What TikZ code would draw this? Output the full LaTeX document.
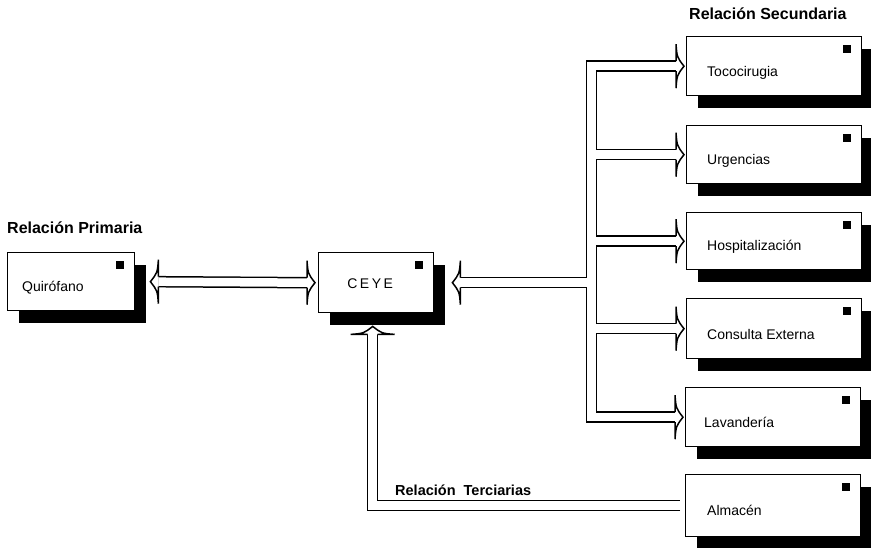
\documentclass[tikz,border=0pt]{standalone}
\usepackage{fontspec}
\setmainfont{Liberation Sans}
\usetikzlibrary{calc,shadows}
\tikzset{
  boxst/.style={draw, line width=1.4pt, fill=white, anchor=north west, inner sep=0pt,
    drop shadow={opacity=1,fill=black,shadow xshift=11pt,shadow yshift=-12pt}},
  lbl/.style={font=\fontsize{14}{16}\selectfont, inner sep=0pt, anchor=base west},
  ttl/.style={font=\bfseries\fontsize{16}{18}\selectfont, inner sep=0pt, anchor=base west},
  ttlsmall/.style={font=\bfseries\fontsize{14.5}{17}\selectfont, inner sep=0pt, anchor=base west},
  edge/.style={line width=1.5pt, line cap=butt, line join=miter},
  chanblack/.style={draw=black, line width=11.5pt, line join=miter, line cap=butt},
  chanwhite/.style={draw=white, line width=8.5pt, line join=miter, line cap=butt},
  arrhead/.pic={
    \fill[white] (-8,-22) .. controls (-7,-9) .. (0,0) .. controls (-7,9) .. (-8,22) -- cycle;
    \draw[edge] (-8,-5) -- (-8,-22) .. controls (-7,-9) .. (0,0) .. controls (-7,9) .. (-8,22) -- (-8,5);
  }
}
\newcommand\boxsq[1]{\fill ($(#1.north east)+(-19,9)$) rectangle ++(8,8);}
\begin{document}
\begin{tikzpicture}[x=1pt,y=-1pt]
\useasboundingbox (0,0) rectangle (871,548);
\fill[white] (0,0) rectangle (871,548);

% boxes
\node[boxst, minimum width=127pt, minimum height=58pt] (quir) at (7,252) {};
\node[boxst, minimum width=115pt, minimum height=60pt] (ceye) at (318,252) {};
\node[boxst, minimum width=175pt, minimum height=59pt] (toco) at (686,36) {};
\node[boxst, minimum width=175pt, minimum height=58pt] (urg) at (686,125) {};
\node[boxst, minimum width=175pt, minimum height=57pt] (hosp) at (686,212) {};
\node[boxst, minimum width=175pt, minimum height=60pt] (cons) at (686,298) {};
\node[boxst, minimum width=175pt, minimum height=59pt] (lav) at (685,387) {};
\node[boxst, minimum width=175pt, minimum height=62pt] (alm) at (685,474) {};
\foreach \b in {quir,ceye,toco,urg,hosp,cons,lav,alm}{\boxsq{\b}}

% box texts
\node[lbl] (quirt) at ($(quir.west)+(15,10)$) {Quirófano};
\node[lbl, anchor=base] (ceyet) at ($(ceye.center)+(-6,5.5)$) {C\kern2.5pt E\kern2.5pt Y\kern2.5pt E};
\node[lbl] (tocot) at ($(toco.west)+(21,10.5)$) {Tococirugia};
\node[lbl] (urgt) at ($(urg.west)+(21,10)$) {Urgencias};
\node[lbl] (hospt) at ($(hosp.west)+(21,9)$) {Hospitalización};
\node[lbl] (const) at ($(cons.west)+(21,10.5)$) {Consulta Externa};
\node[lbl] (lavt) at ($(lav.west)+(19,10)$) {Lavandería};
\node[lbl] (almt) at ($(alm.west)+(22,10)$) {Almacén};

% titles
\node[ttl] (prim) at (7,234) {Relación Primaria};
\node[ttl] (sec) at (689,20) {Relación Secundaria};
\node[ttlsmall] (ter) at (395,495) {Relación\ \ Terciarias};

% channel geometry
\coordinate (busx) at (591.5,0);
\coordinate (ceyeb) at ($(ceye.south)+(-3.5,21)$);
\newcommand\allchannels[1]{%
  \path[#1] ($(toco.west)+(-10,0)$) -- (busx |- toco.west) -- (busx |- lav.west) -- ($(lav.west)+(-10,0)$);
  \path[#1] (busx |- urg.west) -- ($(urg.west)+(-10,0)$);
  \path[#1] (busx |- hosp.west) -- ($(hosp.west)+(-10,0)$);
  \path[#1] (busx |- cons.west) -- ($(cons.west)+(-10,0)$);
  \path[#1] (busx |- ceye.east) -- ($(ceye.east)+(26,0)$);
  \path[#1] ($(quir.east)+(23,0)$) -- ($(ceye.west)+(-11,0)$);
  \path[#1] ($(alm.west)+(-5,0)$) -- (ceyeb |- alm.west) -- (ceyeb);
}
\allchannels{chanblack}
\allchannels{chanwhite}

% arrow heads
\pic at ($(toco.west)+(-2,0)$) {arrhead};
\pic at ($(urg.west)+(-2,0)$) {arrhead};
\pic at ($(hosp.west)+(-2,0)$) {arrhead};
\pic at ($(cons.west)+(-2,0)$) {arrhead};
\pic at ($(lav.west)+(-2,0)$) {arrhead};
\pic[rotate=180] at ($(ceye.east)+(18,0)$) {arrhead};
\pic[rotate=180] at ($(quir.east)+(15,0)$) {arrhead};
\pic at ($(ceye.west)+(-3,0)$) {arrhead};
\pic[rotate=90] at ($(ceye.south)+(-3.5,13)$) {arrhead};
\end{tikzpicture}
\end{document}
